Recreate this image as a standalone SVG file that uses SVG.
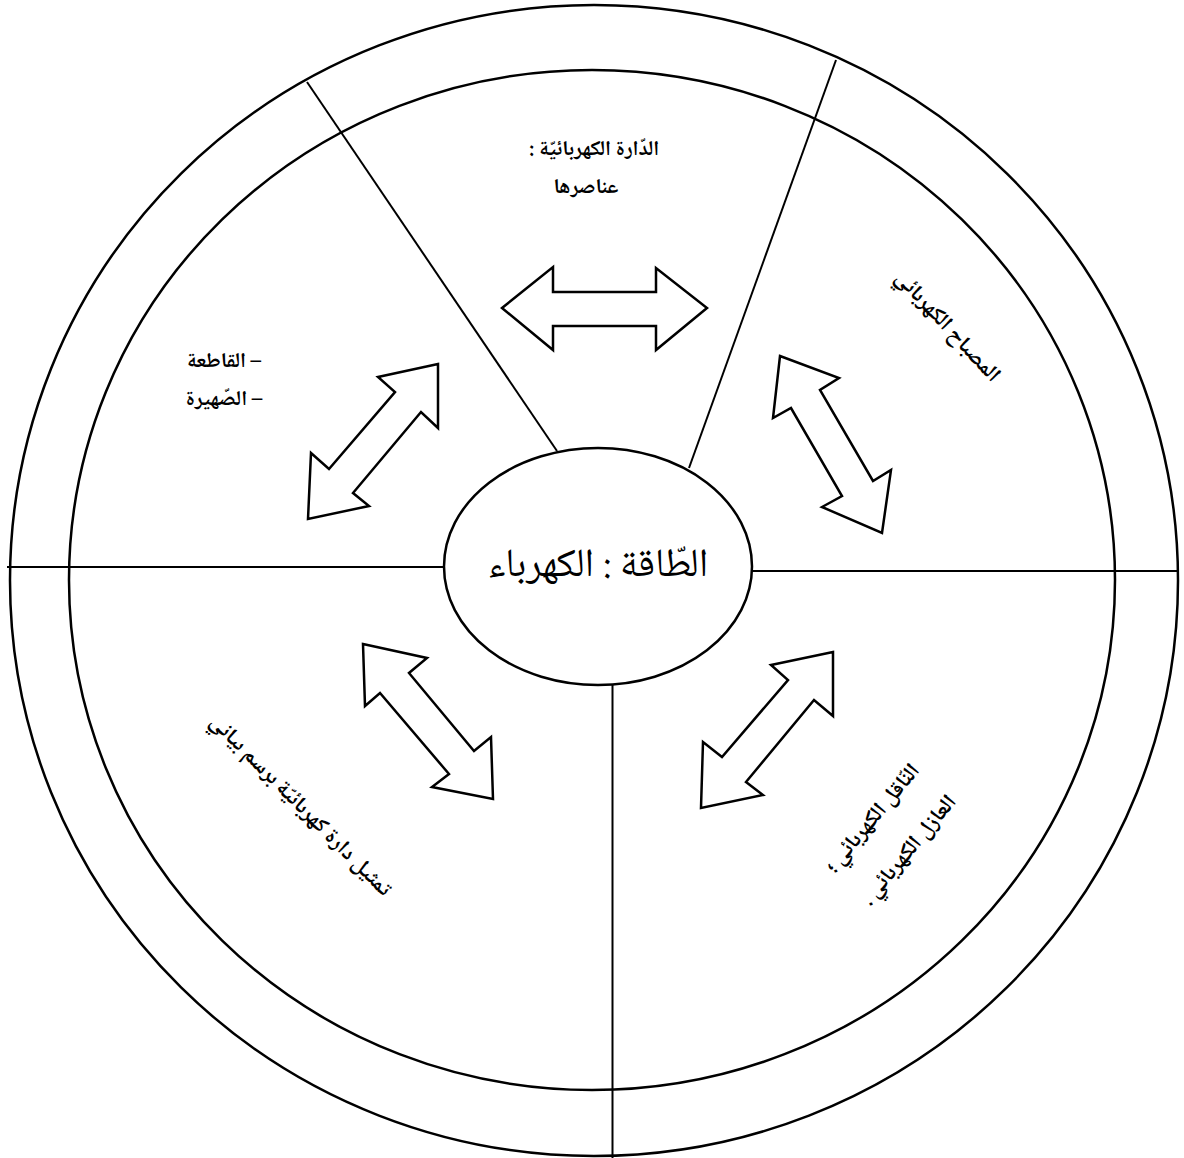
<svg xmlns="http://www.w3.org/2000/svg" width="1184" height="1158" viewBox="0 0 1184 1158">
<style>
.ring{fill:none;stroke:#000;stroke-width:2.5}
.ln{stroke:#000;stroke-width:2;fill:none}
.arr{fill:#fff;stroke:#000;stroke-width:2.5;stroke-linejoin:miter}
.t{font-family:"Noto Naskh Arabic","Noto Sans Arabic","DejaVu Sans",sans-serif;fill:#000;text-anchor:middle}
.b{font-weight:bold;font-size:21px}
.r{font-weight:bold;font-size:22px}
</style>
<rect width="1184" height="1158" fill="#fff"/>
<g id="rings">
<ellipse class="ring" cx="594" cy="580.5" rx="584" ry="575.5"/>
<ellipse class="ring" cx="592" cy="580" rx="523" ry="510"/>
</g>
<g id="connectors">
<line class="ln" x1="307" y1="82" x2="557" y2="451"/>
<line class="ln" x1="836" y1="60" x2="689" y2="468"/>
<line class="ln" x1="7" y1="567" x2="444" y2="567"/>
<line class="ln" x1="752" y1="571" x2="1178" y2="571"/>
<line class="ln" x1="612.5" y1="685" x2="612.5" y2="1158"/>
<polygon class="arr" points="502,308 553,267 553,292 656,292 656,268 707,308 656,350 656,326 553,326 553,350"/>
<polygon class="arr" points="438,364 378,377 395,392 329,469 311,453 308,519 369,506 353,493 421,412 438,428"/>
<polygon class="arr" points="780,356 839,378 820,390 873,481 891,470 882,533 822,507 842,496 791,408 773,418"/>
<polygon class="arr" points="833,652 771,665 788,680 722,757 703,742 701,808 763,795 746,782 814,700 833,716"/>
<polygon class="arr" points="363,644 427,658 409,673 474,751 491,737 493,799 432,787 449,774 380,693 365,706"/>
</g>
<g id="center">
<ellipse fill="#fff" stroke="#000" stroke-width="2.5" cx="598" cy="566.5" rx="154" ry="118.5"/>
<text class="t" direction="rtl" x="598" y="576" font-size="40">الطّاقة : الكهرباء</text>
</g>
<g id="top">
<text class="t b" direction="rtl" x="594" y="155">الدّارة الكهربائيّة :</text>
<text class="t b" direction="rtl" x="586" y="193">عناصرها</text>
</g>
<g id="left">
<text class="t b" direction="rtl" x="224" y="367">– القاطعة</text>
<text class="t b" direction="rtl" x="224" y="405">– الصّهيرة</text>
</g>
<g id="right">
<text class="t r" direction="rtl" transform="translate(948,326) rotate(47)" y="7" font-size="23">المصباح الكهربائي</text>
</g>
<g id="bottom-left">
<text class="t r" direction="rtl" transform="translate(301,805) rotate(45)" y="7">تمثيل دارة كهربائيّة برسم بياني</text>
</g>
<g id="bottom-right">
<text class="t r" direction="rtl" transform="translate(872,818) rotate(-50)" y="7">النّاقل الكهربائي ؛</text>
<text class="t r" direction="rtl" transform="translate(908,850) rotate(-50)" y="7">العازل الكهربائي .</text>
</g>
</svg>
